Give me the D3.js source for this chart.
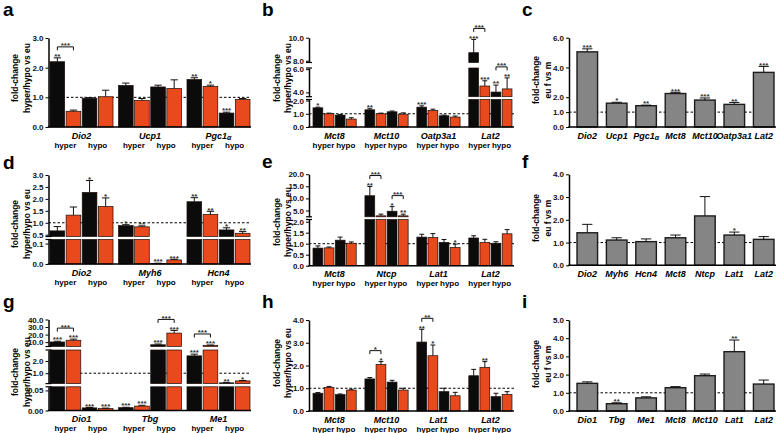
<!DOCTYPE html>
<html><head><meta charset="utf-8">
<script src="https://cdn.jsdelivr.net/npm/d3@7"></script>
<style>
body{margin:0;background:#fff;}
svg{display:block;font-family:"Liberation Sans",Arial,Helvetica,sans-serif;}
</style></head><body>
<svg id="fig" width="778" height="433"></svg>
<script>
// ---------------- DATA ----------------
// series order: hyper male, hyper female, hypo male, hypo female
const seriesNames = ["hyper m", "hyper f", "hypo m", "hypo f"];
const subLabels = ["hyper", "hypo"];

// a
const aGenes = ["Dio2", "Ucp1", "Pgc1α"];
const aMean = [[2.2, 1.4, 1.6], [0.53, 0.9, 1.37], [0.97, 1.35, 0.47], [1.02, 1.3, 0.93]];
const aSem  = [[0.13, 0.08, 0.06], [0.04, 0.06, 0.04], [0.02, 0.06, 0.03], [0.22, 0.29, 0.03]];
const aSig  = [["**", "", "**"], ["", "", "*"], ["", "", "***"], ["", "", ""]];
const aBrackets = [[0, 0, 1, "***"]];
const aDomains = [[0, 3]];
const aTicks = [[0, 1, 2, 3]];

// b
const bGenes = ["Mct8", "Mct10", "Oatp3a1", "Lat2"];
const bMean = [[1.45, 1.3, 1.5, 8.7], [1.0, 1.0, 1.25, 4.55], [0.9, 1.15, 0.85, 4.03], [0.6, 0.97, 0.75, 4.3]];
const bSem  = [[0.05, 0.08, 0.1, 1.15], [0.05, 0.05, 0.1, 0.45], [0.04, 0.06, 0.05, 0.6], [0.1, 0.1, 0.08, 0.95]];
const bSig  = [["*", "**", "***", "***"], ["", "", "", "***"], ["", "", "", "**"], ["", "", "", "**"]];
const bBrackets = [[3, 0, 1, "***"], [3, 2, 3, "***"]];
const bDomains = [[0, 2.08], [3.63, 6.1], [7.85, 10]];
const bTicks = [[0, 1, 2], [4, 6], [8, 10]];

// c
const cGenes = ["Dio2", "Ucp1", "Pgc1α", "Mct8", "Mct10", "Oatp3a1", "Lat2"];
const cMean = [5.05, 1.6, 1.43, 2.25, 1.81, 1.52, 3.67];
const cSem  = [0.2, 0.06, 0.04, 0.08, 0.14, 0.13, 0.4];
const cSig  = ["***", "*", "**", "***", "***", "**", "***"];
const cDomains = [[0, 6]];
const cTicks = [[0, 1, 2, 4, 6]];

// d
const dGenes = ["Dio2", "Myh6", "Hcn4"];
const dMean = [[0.66, 0.88, 1.88], [1.32, 0.83, 1.35], [2.27, 0.003, 0.7], [1.68, 0.02, 0.56]];
const dSem  = [[0.18, 0.04, 0.17], [0.34, 0.04, 0.13], [0.5, 0.001, 0.09], [0.36, 0.003, 0.07]];
const dSig  = [["", "*", "**"], ["", "**", "**"], ["*", "***", "*"], ["*", "***", "**"]];
const dBrackets = [];
const dDomains = [[0, 0.12], [0.425, 3]];
const dTicks = [[0, 0.1], [0.5, 1, 1.5, 2, 2.5, 3]];

// e
const eGenes = ["Mct8", "Ntcp", "Lat1", "Lat2"];
const eMean = [[0.8, 11.1, 1.3, 1.26], [0.81, 2.8, 1.28, 1.06], [1.16, 4.7, 1.06, 1.02], [1.02, 2.8, 0.83, 1.45]];
const eSem  = [[0.1, 3.8, 0.13, 0.1], [0.04, 0.7, 0.18, 0.14], [0.14, 1.9, 0.13, 0.07], [0.06, 0.7, 0.15, 0.19]];
const eSig  = [["", "**", "", ""], ["", "", "", ""], ["", "*", "", ""], ["", "**", "*", ""]];
const eBrackets = [[1, 0, 1, "***"], [1, 2, 3, "***"]];
const eDomains = [[0, 2.1], [2.4, 20]];
const eTicks = [[0, 0.5, 1, 1.5, 2], [5, 10, 15, 20]];

// f
const fGenes = ["Dio2", "Myh6", "Hcn4", "Mct8", "Ntcp", "Lat1", "Lat2"];
const fMean = [1.43, 1.11, 1.04, 1.21, 2.17, 1.33, 1.14];
const fSem  = [0.37, 0.1, 0.12, 0.12, 0.85, 0.13, 0.12];
const fSig  = ["", "", "", "", "", "*", ""];
const fDomains = [[0, 4]];
const fTicks = [[0, 1, 2, 3, 4]];

// g
const gGenes = ["Dio1", "Tbg", "Me1"];
const gMean = [[10.2, 0.007, 2.42], [12.5, 0.011, 5.8], [0.0065, 6.5, 0.21], [0.005, 22, 0.37]];
const gSem  = [[1.0, 0.001, 0.14], [1.5, 0.002, 0.4], [0.001, 1.0, 0.02], [0.001, 3.5, 0.03]];
const gSig  = [["***", "***", "***"], ["***", "***", "***"], ["***", "***", "**"], ["***", "***", "*"]];
const gBrackets = [[0, 0, 1, "***"], [1, 2, 3, "***"], [2, 0, 1, "***"]];
const gDomains = [[0, 0.059], [0.15, 2.9], [4.2, 40]];
const gTicks = [[0, 0.05], [1, 2], [10, 20, 30, 40]];

// h
const hGenes = ["Mct8", "Mct10", "Lat1", "Lat2"];
const hMean = [[0.78, 1.41, 3.03, 1.55], [1.04, 2.05, 2.43, 1.92], [0.72, 1.27, 0.85, 0.63], [0.92, 0.92, 0.67, 0.73]];
const hSem  = [[0.03, 0.06, 0.56, 0.28], [0.04, 0.12, 0.47, 0.25], [0.03, 0.08, 0.15, 0.15], [0.04, 0.08, 0.15, 0.12]];
const hSig  = [["", "", "**", ""], ["", "*", "*", "**"], ["", "", "", ""], ["", "", "", ""]];
const hBrackets = [[1, 0, 1, "*"], [2, 0, 1, "**"]];
const hDomains = [[0, 4]];
const hTicks = [[0, 1, 2, 3, 4]];

// i
const iGenes = ["Dio1", "Tbg", "Me1", "Mct8", "Mct10", "Lat1", "Lat2"];
const iMean = [1.52, 0.4, 0.72, 1.28, 1.94, 3.26, 1.48];
const iSem  = [0.08, 0.05, 0.06, 0.06, 0.09, 0.64, 0.22];
const iSig  = ["", "**", "", "", "", "**", ""];
const iDomains = [[0, 5]];
const iTicks = [[0, 1, 2, 3, 4, 5]];

// ---------------- LAYOUT ----------------
const svg = d3.select("#fig");
svg.append("rect").attr("width", 778).attr("height", 433).attr("fill", "#fff");

const BLACK = "#0b0b0b", RED = "#e8491d", GRAY = "#858585";
const seriesFill = [BLACK, RED, BLACK, RED];

const cols = [
  {axisX: 48.5, x0: 50, x1: 250, right: 251, padG: 0.08, padB: 0.09, lx: 3, tA: 15, tB: 27},
  {axisX: 309, x0: 313, x1: 512, right: 514, padG: 0.168, padB: 0.12, lx: 262, tA: 277, tB: 288.5},
  {axisX: 569, x0: 577, x1: 774, right: 776, padG: 0.3, padB: 0, lx: 522, tA: 536.5, tB: 548}
];

const panels = [
  {key: "a", col: 0, labelY: 16, genes: aGenes, mean: aMean, sem: aSem, sig: aSig, brackets: aBrackets, domains: aDomains, ticks: aTicks, ranges: [[127, 38]], titleY: 78, title2: "hyper/hypo vs eu"},
  {key: "b", col: 1, labelY: 16, genes: bGenes, mean: bMean, sem: bSem, sig: bSig, brackets: bBrackets, domains: bDomains, ticks: bTicks, ranges: [[127, 99.5], [96.7, 68], [62.5, 37.7]], titleY: 78, title2: "hyper/hypo vs eu"},
  {key: "c", col: 2, labelY: 16, genes: cGenes, mean: [cMean], sem: [cSem], sig: [cSig], brackets: [], domains: cDomains, ticks: cTicks, ranges: [[127, 37.7]], titleY: 80, title2: "eu f vs m"},
  {key: "d", col: 0, labelY: 169, genes: dGenes, mean: dMean, sem: dSem, sig: dSig, brackets: dBrackets, domains: dDomains, ticks: dTicks, ranges: [[264, 239.5], [236.5, 175]], titleY: 224, title2: "hyper/hypo vs eu"},
  {key: "e", col: 1, labelY: 168, genes: eGenes, mean: eMean, sem: eSem, sig: eSig, brackets: eBrackets, domains: eDomains, ticks: eTicks, ranges: [[265.7, 219.5], [216.8, 174.2]], titleY: 222, title2: "hyper/hypo vs eu"},
  {key: "f", col: 2, labelY: 168, genes: fGenes, mean: [fMean], sem: [fSem], sig: [fSig], brackets: [], domains: fDomains, ticks: fTicks, ranges: [[265.3, 174.3]], titleY: 218, title2: "eu f vs m"},
  {key: "g", col: 0, labelY: 308, genes: gGenes, mean: gMean, sem: gSem, sig: gSig, brackets: gBrackets, domains: gDomains, ticks: gTicks, fmts: [".2f", ".1f", ".1f"], ranges: [[410.5, 386.8], [383.6, 350], [346.5, 319.5]], titleY: 372, title2: "hyper/hypo vs eu"},
  {key: "h", col: 1, labelY: 308, genes: hGenes, mean: hMean, sem: hSem, sig: hSig, brackets: hBrackets, domains: hDomains, ticks: hTicks, ranges: [[411, 320]], titleY: 363, title2: "hyper/hypo vs eu"},
  {key: "i", col: 2, labelY: 308, genes: iGenes, mean: [iMean], sem: [iSem], sig: [iSig], brackets: [], domains: iDomains, ticks: iTicks, ranges: [[411, 320]], titleY: 364, title2: "eu f vs m"}
];

function geneText(sel, name) {
  if (name.endsWith("α")) {
    sel.text(name.slice(0, -1));
    sel.append("tspan").attr("font-size", "0.78em").attr("dy", 1.5).text("α");
  } else sel.text(name);
}

function drawPanel(p) {
  const c = cols[p.col];
  const g = svg.append("g").attr("class", "panel-" + p.key);
  const segs = p.domains.map((d, i) => ({
    d, r: p.ranges[i], ticks: p.ticks[i],
    fmt: d3.format(p.fmts ? p.fmts[i] : ".1f"),
    s: d3.scaleLinear().domain(d).range(p.ranges[i])
  }));
  const y0 = segs[0].r[0];
  function yOf(v) {
    for (let i = 0; i < segs.length; i++) {
      const s = segs[i];
      if (i > 0 && v < s.d[0]) return segs[i - 1].s(segs[i - 1].d[1]);
      if (v <= s.d[1] || i === segs.length - 1) return s.s(v);
    }
  }
  const nS = p.mean.length;
  const grouped = nS > 1;
  const xg = d3.scaleBand().domain(p.genes).range([c.x0, c.x1]).paddingInner(c.padG).paddingOuter(0);
  const xb = d3.scaleBand().domain(d3.range(nS)).range([0, xg.bandwidth()]).paddingInner(c.padB).paddingOuter(0);

  // panel letter
  g.append("text").attr("x", c.lx).attr("y", p.labelY).attr("font-size", 19).attr("font-weight", "bold")
    .attr("fill", "#000").text(p.key);

  // y title
  const t = g.append("g").attr("font-size", 8.5).attr("font-weight", "bold").attr("text-anchor", "middle").attr("fill", "#000");
  t.append("text").attr("transform", `translate(${c.tA},${p.titleY}) rotate(-90)`).attr("dy", "0.35em").text("fold-change");
  t.append("text").attr("transform", `translate(${c.tB},${p.titleY}) rotate(-90)`).attr("dy", "0.35em").text(p.title2);

  // dashed reference at 1.0
  g.append("line").attr("x1", c.axisX).attr("x2", c.right).attr("y1", yOf(1)).attr("y2", yOf(1))
    .attr("stroke", "#000").attr("stroke-width", 1).attr("stroke-dasharray", "2.5,2");

  // bars
  const bars = [];
  p.genes.forEach((gene, gi) => {
    for (let si = 0; si < nS; si++) {
      bars.push({gi, si, x: xg(gene) + xb(si), w: xb.bandwidth(), v: p.mean[si][gi], e: p.sem[si][gi], sig: p.sig[si][gi],
        fill: grouped ? seriesFill[si] : GRAY});
    }
  });
  bars.forEach(b => {
    segs.forEach((s, k) => {
      const lo = k === 0 ? 0 : s.d[0];
      if (k > 0 && b.v <= lo) return;
      const hi = Math.min(b.v, s.d[1]);
      const yt = s.s(hi), yb = s.s(lo);
      g.append("rect").attr("x", b.x).attr("y", yt).attr("width", b.w).attr("height", Math.max(0.01, yb - yt))
        .attr("fill", b.fill)
        .attr("stroke", grouped ? "#1a0d08" : "#1c1c1c")
        .attr("stroke-width", grouped ? 0.7 : 1.4);
    });
    const cx = b.x + b.w / 2;
    const yv = yOf(b.v), ye = yOf(b.v + b.e);
    b.top = ye;
    if (b.e > 0) {
      g.append("line").attr("x1", cx).attr("x2", cx).attr("y1", yv).attr("y2", ye).attr("stroke", "#111").attr("stroke-width", 1);
      g.append("line").attr("x1", cx - b.w * 0.25).attr("x2", cx + b.w * 0.25).attr("y1", ye).attr("y2", ye).attr("stroke", "#111").attr("stroke-width", 1);
    }
    if (b.sig) {
      g.append("text").attr("x", cx).attr("y", ye + 1.2).attr("text-anchor", "middle").attr("font-size", 8)
        .attr("font-weight", "bold").attr("fill", "#333").text(b.sig);
    }
  });

  // brackets
  p.brackets.forEach(([gi, a, bb, lab]) => {
    const A = bars.find(d => d.gi === gi && d.si === a), B = bars.find(d => d.gi === gi && d.si === bb);
    const yb = Math.min(A.top, B.top) - 11;
    const xa = A.x + A.w / 2, xz = B.x + B.w / 2;
    g.append("path").attr("d", `M${xa},${yb + 3.5}V${yb}H${xz}V${yb + 3.5}`).attr("fill", "none")
      .attr("stroke", "#111").attr("stroke-width", 1);
    g.append("text").attr("x", (xa + xz) / 2).attr("y", yb + 1.5).attr("text-anchor", "middle").attr("font-size", 8)
      .attr("font-weight", "bold").attr("fill", "#333").text(lab);
  });

  // y axis segments
  segs.forEach((s, k) => {
    const ax = g.append("g").attr("transform", `translate(${c.axisX},0)`)
      .call(d3.axisLeft(s.s).tickValues(s.ticks).tickFormat(s.fmt).tickSize(3).tickSizeOuter(0).tickPadding(2));
    ax.select(".domain").attr("stroke", "#000").attr("stroke-width", 1.5);
    ax.selectAll(".tick line").attr("stroke", "#000").attr("stroke-width", 1);
    ax.selectAll(".tick text").attr("font-size", 8).attr("font-weight", "bold").attr("fill", "#111")
      .attr("font-family", "'Liberation Sans', Arial, sans-serif");
    if (k > 0) g.append("line").attr("x1", c.axisX - 3).attr("x2", c.axisX + 3).attr("y1", s.r[0]).attr("y2", s.r[0]).attr("stroke", "#000").attr("stroke-width", 1.2);
    if (k < segs.length - 1) g.append("line").attr("x1", c.axisX - 3).attr("x2", c.axisX + 3).attr("y1", s.r[1]).attr("y2", s.r[1]).attr("stroke", "#000").attr("stroke-width", 1.2);
  });

  // x axis
  g.append("line").attr("x1", c.axisX - 0.75).attr("x2", c.right).attr("y1", y0).attr("y2", y0)
    .attr("stroke", "#000").attr("stroke-width", 1.6);

  // x labels
  p.genes.forEach(gene => {
    const cx = xg(gene) + xg.bandwidth() / 2;
    const tx = g.append("text").attr("x", cx).attr("y", y0 + 11.5).attr("text-anchor", "middle").attr("font-size", 9)
      .attr("font-weight", "bold").attr("font-style", "italic").attr("fill", "#000");
    geneText(tx, gene);
    if (grouped) {
      subLabels.forEach((lab, j) => {
        const x = xg(gene) + (xb(2 * j) + xb(2 * j + 1) + xb.bandwidth()) / 2;
        g.append("text").attr("x", x).attr("y", y0 + 20.5).attr("text-anchor", "middle").attr("font-size", 8)
          .attr("font-weight", "bold").attr("fill", "#000").text(lab);
      });
    }
  });
}

panels.forEach(drawPanel);
</script></body></html>
